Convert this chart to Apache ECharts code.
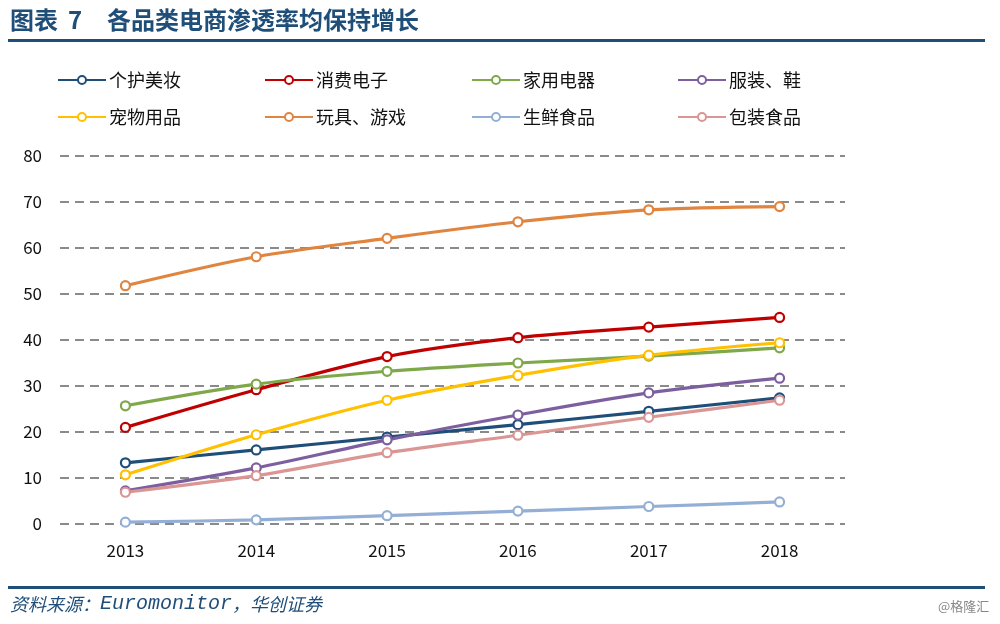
<!DOCTYPE html>
<html><head><meta charset="utf-8">
<script src="https://cdn.jsdelivr.net/npm/echarts@6/dist/echarts.min.js"></script>
<style>html,body{margin:0;padding:0;background:#fff}#c{width:1000px;height:624px}</style>
</head><body><div id="c"></div>
<script>
const categories = ['2013','2014','2015','2016','2017','2018'];
const seriesNames = ['个护美妆','消费电子','家用电器','服装、鞋','宠物用品','玩具、游戏','生鲜食品','包装食品'];
const personalCare = [13.3, 16.1, 18.9, 21.6, 24.5, 27.4];
const electronics  = [21.0, 29.2, 36.4, 40.5, 42.8, 44.9];
const appliances   = [25.7, 30.4, 33.2, 35.0, 36.5, 38.3];
const apparel      = [7.2, 12.2, 18.3, 23.7, 28.5, 31.7];
const petSupplies  = [10.7, 19.4, 26.9, 32.3, 36.7, 39.4];
const toys         = [51.8, 58.1, 62.1, 65.7, 68.3, 69.0];
const freshFood    = [0.4, 0.9, 1.8, 2.8, 3.8, 4.8];
const packagedFood = [6.9, 10.5, 15.5, 19.3, 23.2, 26.9];
const yTicks = [0, 10, 20, 30, 40, 50, 60, 70, 80];

const allData = [personalCare, electronics, appliances, apparel, petSupplies, toys, freshFood, packagedFood];
const colors = ['#1F4E79','#C00000','#7FA84B','#7D5FA0','#FFC000','#E0853F','#94AFD6','#D99694'];
const FONT = '"Noto Sans CJK SC", "Noto Sans", sans-serif';

const chart = echarts.init(document.getElementById('c'), null, {renderer:'canvas'});

const legendPos = [
  {left:52, top:66},{left:259, top:66},{left:466, top:66},{left:672, top:66},
  {left:52, top:103},{left:259, top:103},{left:466, top:103},{left:672, top:103}
];
const legends = seriesNames.map((n,i)=>({
  data:[n], left:legendPos[i].left, top:legendPos[i].top,
  itemWidth:48, itemHeight:10, itemGap:0,
  textStyle:{fontFamily:FONT, fontSize:18, color:'#111', padding:[0,0,0,-2]},
  selectedMode:false
}));

const series = seriesNames.map((n,i)=>({
  name:n, type:'line', data:allData[i], smooth:0.3,
  symbol:'circle', symbolSize:9,
  lineStyle:{color:colors[i], width:3.2},
  itemStyle:{color:'#fff', borderColor:colors[i], borderWidth:2.2}
}));

chart.setOption({
  animation:false,
  textStyle:{fontFamily:FONT},
  legend: legends,
  grid:{left:60, right:155, top:156, bottom:100, containLabel:false},
  xAxis:{
    type:'category', data:categories, boundaryGap:true,
    axisLine:{show:false}, axisTick:{show:false},
    axisLabel:{fontFamily:FONT, fontSize:17, color:'#111', margin:18}
  },
  yAxis:{
    type:'value', min:yTicks[0], max:yTicks[yTicks.length-1], interval:10,
    axisLine:{show:false}, axisTick:{show:false},
    axisLabel:{fontFamily:FONT, fontSize:17, color:'#111', margin:18},
    splitLine:{show:true, lineStyle:{color:'#8a8a8a', width:2, type:[9,6]}}
  },
  graphic:[
    {type:'text', left:10, top:8, style:{text:'图表', fontFamily:FONT, fontWeight:'bold', fontSize:24, fill:'#1F4E79'}},
    {type:'text', left:68, top:8, style:{text:'7', fontFamily:FONT, fontWeight:'bold', fontSize:24, fill:'#1F4E79'}},
    {type:'text', left:107, top:8, style:{text:'各品类电商渗透率均保持增长', fontFamily:FONT, fontWeight:'bold', fontSize:24, fill:'#1F4E79'}},
    {type:'rect', shape:{x:8, y:39, width:977, height:3}, style:{fill:'#1F4E79'}},
    {type:'rect', shape:{x:8, y:586, width:977, height:3}, style:{fill:'#1F4E79'}},
    {type:'text', left:10, top:594, style:{
      text:'{c|资料来源：}{m|Euromonitor}{c|，华创证券}',
      rich:{
        c:{fontFamily:FONT, fontStyle:'italic', fontSize:18, fill:'#1F4E79', color:'#1F4E79'},
        m:{fontFamily:'"Liberation Mono", "DejaVu Sans Mono", monospace', fontStyle:'italic', fontSize:20, fill:'#1F4E79', color:'#1F4E79'}
      }
    }},
    {type:'text', left:938, top:600, style:{text:'@格隆汇', fontFamily:FONT, fontSize:13, fill:'#888'}}
  ],
  series: series
});
</script></body></html>
